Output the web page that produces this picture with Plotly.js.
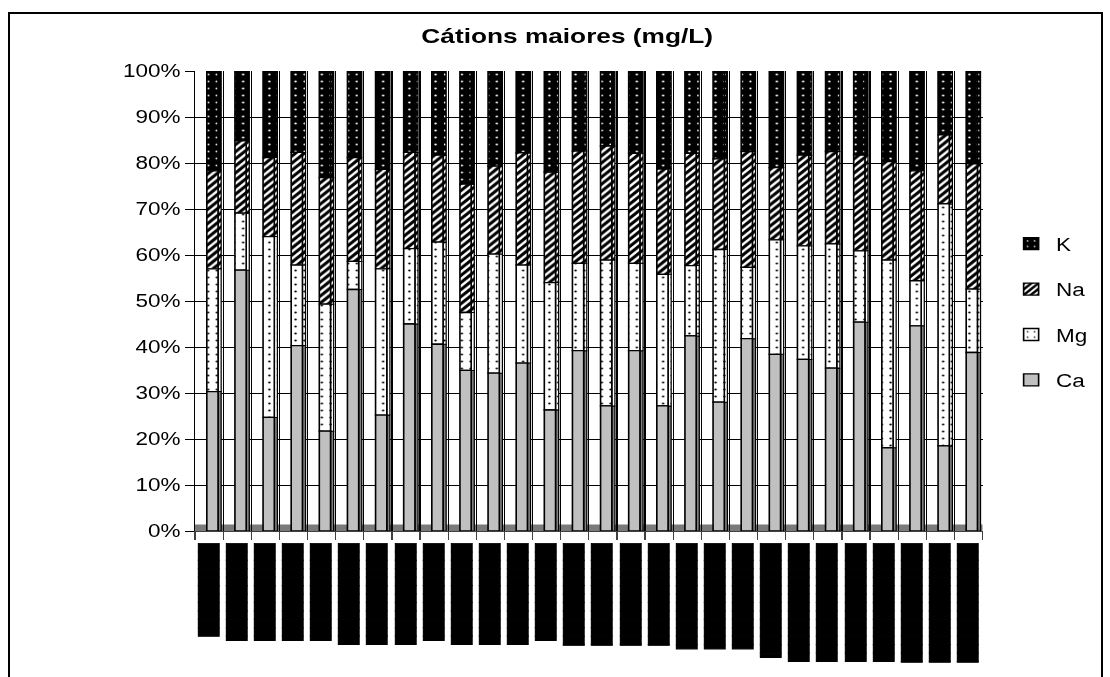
<!DOCTYPE html>
<html>
<head>
<meta charset="utf-8">
<script src="https://cdn.plot.ly/plotly-3.0.1.min.js"></script>
<style>
  html, body { margin: 0; padding: 0; background: #fff; overflow: hidden; }
  #stage { position: relative; width: 1110px; height: 677px; }
  #chart { position: absolute; left: 0; top: 0; width: 888px; height: 677px;
           transform: scaleX(1.25); transform-origin: 0 0; filter: grayscale(100%); }
  /* close the hairline seams between the block glyphs of the sample names */
  #chart .xtick text { stroke: #000; stroke-width: 0.9px; }
  #frame { position: absolute; left: 8px; top: 12px; width: 1091px; height: 700px;
           border: 2px solid #000; pointer-events: none; }
</style>
</head>
<body>
<div id="stage">
  <div id="chart"></div>
  <div id="frame"></div>
</div>
<script>
// Sample identifiers (one per column)
const samples = ['1','2','3','4','5','6','7','8','9','10','11','12','13','14',
                 '15','16','17','18','19','20','21','22','23','24','25','26','27','28'];

// Redacted sample names, shown as solid blocks
const sampleLabels = [
  '███████████', '▐███████████', '▐███████████', '▐███████████', '▐███████████',
  '████████████', '████████████', '████████████', '▐███████████', '████████████',
  '████████████', '████████████', '▐███████████', '▕████████████', '▕████████████',
  '▕████████████', '▕████████████', '▐████████████', '▐████████████', '▐████████████',
  '▐█████████████', '██████████████', '██████████████', '██████████████', '██████████████',
  '▕██████████████', '▕██████████████', '▕██████████████'
];

// Share of each major cation (% of the total)
const ca = [30.3,56.7,24.7,40.3,21.7,52.5,25.2,45.0,40.6,34.9,34.3,36.5,26.3,39.2,
            27.2,39.2,27.2,42.4,28.0,41.8,38.4,37.3,35.4,45.4,18.1,44.6,18.5,38.8];
const mg = [26.7,12.4,39.3,17.5,27.6,6.1,31.8,16.4,22.2,12.6,25.9,21.3,27.7,19.0,
            31.7,19.0,28.6,15.3,33.2,15.5,24.9,24.7,27.0,15.5,40.8,9.8,52.6,13.8];
const na = [21.3,15.7,17.2,24.5,27.5,22.6,21.6,20.9,18.9,27.9,19.1,24.4,24.0,24.4,
            24.8,23.9,22.9,24.4,19.7,25.2,15.7,19.7,20.1,20.8,21.4,23.9,15.0,27.2];
const k  = [21.7,15.2,18.8,17.7,23.2,18.8,21.4,17.7,18.3,24.6,20.7,17.8,22.0,17.4,
            16.3,17.9,21.3,17.9,19.1,17.5,21.0,18.3,17.5,18.3,19.7,21.7,13.9,20.2];

const seriesNames = ['Ca', 'Mg', 'Na', 'K'];
const seriesValues = [ca, mg, na, k];

const faceStyle = {
  Ca: { color: '#c0c0c0', side: '#808080', pattern: { shape: '' } },
  Mg: { color: '#ffffff', side: '#ffffff',
        pattern: { shape: '.', fgcolor: '#000', bgcolor: '#fff', size: 7, solidity: 0.06 } },
  Na: { color: '#ffffff', side: '#ffffff',
        pattern: { shape: '/', fgcolor: '#000', bgcolor: '#fff', size: 5, solidity: 0.55 } },
  K:  { color: '#000000', side: '#000000',
        pattern: { shape: '.', fgcolor: '#fff', bgcolor: '#000', size: 7, solidity: 0.06 } }
};

// Stack each series on top of the previous ones
const bases = [];
let running = samples.map(() => 0);
seriesValues.forEach(vals => {
  bases.push(running.slice());
  running = running.map((r, i) => r + vals[i]);
});

const traces = [];
// darker side faces, giving the columns some depth
seriesNames.forEach((name, s) => {
  const st = faceStyle[name];
  traces.push({
    type: 'bar', x: samples, y: seriesValues[s], base: bases[s],
    offset: 0.32, width: 0.11, showlegend: false, hoverinfo: 'skip',
    marker: { color: st.side, pattern: st.pattern, line: { color: '#000', width: 1 } }
  });
});
// front faces, listed top segment first so the legend reads K, Na, Mg, Ca
for (let s = seriesNames.length - 1; s >= 0; s--) {
  const name = seriesNames[s];
  const st = faceStyle[name];
  traces.push({
    type: 'bar', name: name, legendgroup: name, x: samples, y: seriesValues[s], base: bases[s],
    offset: -0.08, width: 0.40,
    marker: { color: st.color, pattern: st.pattern, line: { color: '#000', width: 1.3 } },
    hovertemplate: name + ': %{y:.1f}%<extra></extra>'
  });
}
// carrier for the back-wall grid axis
traces.push({ type: 'scatter', x: [samples[0]], y: [null], yaxis: 'y2',
              showlegend: false, hoverinfo: 'skip', mode: 'markers' });

const font = 'Liberation Sans, Arial, sans-serif';

const layout = {
  width: 888, height: 677,
  margin: { l: 156, r: 85, t: 67, b: 146 },
  paper_bgcolor: '#fff', plot_bgcolor: '#fff',
  barmode: 'overlay',
  font: { family: font, size: 18, color: '#000' },
  title: { text: 'Cátions maiores (mg/L)', font: { family: font, size: 21, color: '#000', weight: 'bold' },
           xref: 'container', x: 0.511, xanchor: 'center', yref: 'container', y: 0.948, yanchor: 'middle' },
  xaxis: {
    type: 'category', categoryorder: 'array', categoryarray: samples,
    tickmode: 'array', tickvals: samples, ticktext: sampleLabels,
    tickson: 'boundaries', ticks: 'outside', ticklen: 8, tickcolor: '#404040',
    showgrid: true, gridcolor: '#000', gridwidth: 1,
    showline: true, linecolor: '#404040', linewidth: 1,
    tickangle: -90, ticklabelstandoff: 6,
    tickfont: { family: 'DejaVu Sans Mono', size: 14, color: '#000' },
    range: [-0.5, 27.5], automargin: false, fixedrange: true
  },
  yaxis: {
    domain: [0, 460 / 464], range: [0, 100], dtick: 10, ticksuffix: '%',
    ticks: 'outside', ticklen: 7, tickcolor: '#000',
    showline: true, linecolor: '#000', linewidth: 1,
    showgrid: false, zeroline: false, automargin: false, fixedrange: true,
    tickfont: { family: font, size: 18, color: '#000' }
  },
  yaxis2: {
    domain: [4 / 464, 1], range: [0, 100], dtick: 10, overlaying: 'y', anchor: 'x',
    showgrid: true, gridcolor: '#000', gridwidth: 1, showticklabels: false,
    ticks: '', showline: false, zeroline: false, fixedrange: true
  },
  shapes: [{
    type: 'rect', xref: 'paper', yref: 'y', x0: 0, x1: 1, y0: 0, y1: 1.4,
    fillcolor: '#7a7a7a', line: { width: 0 }, layer: 'between'
  }],
  legend: {
    x: 1.03, xanchor: 'left', y: 0.472, yanchor: 'middle',
    traceorder: 'grouped', tracegroupgap: 19,
    font: { family: font, size: 18, color: '#000' },
    bgcolor: 'rgba(0,0,0,0)', itemwidth: 30
  },
  showlegend: true
};

Plotly.newPlot('chart', traces, layout, { displayModeBar: false, staticPlot: true });
</script>
</body>
</html>
